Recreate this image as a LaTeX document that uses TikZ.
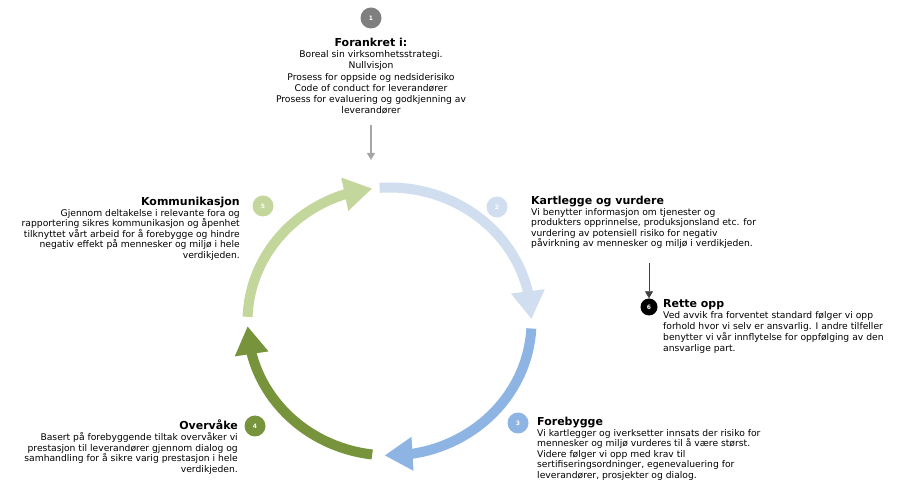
\documentclass[tikz,border=0pt]{standalone}
\usepackage{fontspec}
\setmainfont{DejaVu Sans}
\usetikzlibrary{arrows.meta, bending, positioning}

\definecolor{ringA}{HTML}{D0DEF0}
\definecolor{ringB}{HTML}{8DB4E2}
\definecolor{ringC}{HTML}{77933C}
\definecolor{ringD}{HTML}{C3D69B}
\definecolor{badgegray}{HTML}{7F7F7F}

\newcommand{\steptitle}[1]{{\fontsize{11}{12}\selectfont\bfseries #1}}

\begin{document}
\begin{tikzpicture}[
    x=1pt, y=1pt,
    ring/.style={line width=10pt, -{Triangle[length=28pt, width=32pt]}},
    badge/.style={
        circle, fill=#1, minimum size=21pt, inner sep=0pt,
        text=white, font=\fontsize{6}{6}\selectfont\bfseries
    },
    blk/.style={inner sep=0pt, font=\fontsize{9.2}{10.6}\selectfont},
    feed/.style={line width=1.4pt, draw=#1, -{Triangle[length=7pt, width=8pt]}}
]
\useasboundingbox (0,0) rectangle (897,490);

% the cycle
\begin{scope}[shift={(389.5,168.5)}]
\foreach \a/\b/\c in {94/1/ringA, -3/-92/ringB, -97/-178/ringC, 178/97/ringD}
    \draw[ring, \c] (\a:142 and 134) arc[start angle=\a, end angle=\b, x radius=142, y radius=134];
\end{scope}

% numbers
\node[badge=badgegray] (n1) at (371,472) {1};
\node[badge=ringA] (n2) at (497,283) {2};
\node[badge=ringB] (n3) at (518,67) {3};
\node[badge=ringC] (n4) at (255,64) {4};
\node[badge=ringD] (n5) at (263,284) {5};
\node[badge=black, minimum size=17pt] (n6) at (649,183) {6};

% texts
\node[blk, align=center, anchor=north, font=\fontsize{9.2}{11.2}\selectfont] (forankret) at (371,452) {
    \steptitle{Forankret i:}\\
    Boreal sin virksomhetsstrategi.\\
    Nullvisjon\\
    Prosess for oppside og nedsiderisiko\\
    Code of conduct for leverandører\\
    Prosess for evaluering og godkjenning av\\
    leverandører
};

\node[blk, align=left, anchor=north west] (kart) at (531,294) {
    \steptitle{Kartlegge og vurdere}\\
    Vi benytter informasjon om tjenester og\\
    produkters opprinnelse, produksjonsland etc. for\\
    vurdering av potensiell risiko for negativ\\
    påvirkning av mennesker og miljø i verdikjeden.
};

\node[blk, align=left, anchor=north west, font=\fontsize{9.2}{11}\selectfont] (rette) at (663,191) {
    \steptitle{Rette opp}\\
    Ved avvik fra forventet standard følger vi opp\\
    forhold hvor vi selv er ansvarlig. I andre tilfeller\\
    benytter vi vår innflytelse for oppfølging av den\\
    ansvarlige part.
};

\node[blk, align=left, anchor=north west] (fore) at (537,73) {
    \steptitle{Forebygge}\\
    Vi kartlegger og iverksetter innsats der risiko for\\
    mennesker og miljø vurderes til å være størst.\\
    Videre følger vi opp med krav til\\
    sertifiseringsordninger, egenevaluering for\\
    leverandører, prosjekter og dialog.
};

\node[blk, align=right, anchor=north east] (over) at (238,70) {
    \steptitle{Overvåke}\\
    Basert på forebyggende tiltak overvåker vi\\
    prestasjon til leverandører gjennom dialog og\\
    samhandling for å sikre varig prestasjon i hele\\
    verdikjeden.
};

\node[blk, align=right, anchor=north east] (komm) at (240,293) {
    \steptitle{Kommunikasjon}\\
    Gjennom deltakelse i relevante fora og\\
    rapportering sikres kommunikasjon og åpenhet\\
    tilknyttet vårt arbeid for å forebygge og hindre\\
    negativ effekt på mennesker og miljø i hele\\
    verdikjeden.
};

% feeds
\coordinate (ringtop) at (371,330);
\coordinate (k6) at (649,227);
\draw[feed=gray!70, shorten <=11pt] (forankret.south) -- (ringtop);
\draw[feed=black!75, line width=0.8pt] (k6) -- (n6.north);

\end{tikzpicture}
\end{document}
